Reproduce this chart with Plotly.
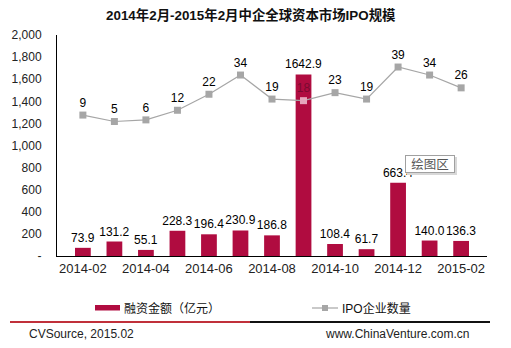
import plotly.graph_objects as go

# Monthly series, Feb 2014 - Feb 2015
months = ["2014-02", "2014-03", "2014-04", "2014-05", "2014-06", "2014-07", "2014-08",
          "2014-09", "2014-10", "2014-11", "2014-12", "2015-01", "2015-02"]
amount = [73.9, 131.2, 55.1, 228.3, 196.4, 230.9, 186.8, 1642.9, 108.4, 61.7, 663.4, 140.0, 136.3]
ipo_count = [9, 5, 6, 12, 22, 34, 19, 18, 23, 19, 39, 34, 26]

shown_months = ["2014-02", "2014-04", "2014-06", "2014-08", "2014-10", "2014-12", "2015-02"]
y_ticks = [0, 200, 400, 600, 800, 1000, 1200, 1400, 1600, 1800, 2000]
y_tick_text = ["-", "200", "400", "600", "800", "1,000", "1,200", "1,400", "1,600", "1,800", "2,000"]

title_text = "2014年2月-2015年2月中企全球资本市场IPO规模"
bar_name = "融资金额（亿元）"
line_name = "IPO企业数量"
source_left = "CVSource, 2015.02"
source_right = "www.ChinaVenture.com.cn"
tip_text = "绘图区"

W, H = 511, 348
ML, MR, MT, MB = 57, 24, 35, 92
PW, PH = W - ML - MR, H - MT - MB

def px(x):
    return (x - ML) / PW

def py(y):
    return (H - MB - y) / PH

FONT = "Arial, 'Liberation Sans', 'Noto Sans CJK SC', sans-serif"
BAR_COLOR = "#B00C40"
LINE_COLOR = "#A6A6A6"

bar_text_colors = ["#000000"] * len(amount)
line_text_colors = ["#000000"] * len(ipo_count)
line_text_colors[7] = "#7A0A30"
marker_colors = [LINE_COLOR] * len(ipo_count)
marker_colors[7] = "#E6A6BC"

fig = go.Figure()
fig.add_trace(go.Bar(
    x=months, y=amount, name=bar_name,
    marker=dict(color=BAR_COLOR, line=dict(width=0)),
    width=0.5,
    texttemplate="%{y:.1f}", textposition="outside", constraintext="none",
    textfont=dict(family=FONT, size=12, color=bar_text_colors),
    cliponaxis=False, showlegend=False,
))
fig.add_trace(go.Scatter(
    x=months, y=ipo_count, name=line_name, yaxis="y2",
    mode="lines+markers+text",
    line=dict(color=LINE_COLOR, width=1.2),
    marker=dict(symbol="square", size=7, color=marker_colors),
    text=[str(v) for v in ipo_count], textposition="top center",
    textfont=dict(family=FONT, size=12, color=line_text_colors),
    cliponaxis=False, showlegend=False,
))

shapes = [
    # legend swatches
    dict(type="rect", xref="paper", yref="paper",
         x0=px(95), x1=px(120), y0=py(310.5), y1=py(305), fillcolor=BAR_COLOR, line=dict(width=0)),
    dict(type="line", xref="paper", yref="paper",
         x0=px(312), x1=px(338), y0=py(308), y1=py(308), line=dict(color=LINE_COLOR, width=1.2)),
    dict(type="rect", xref="paper", yref="paper",
         x0=px(322), x1=px(328), y0=py(311), y1=py(305), fillcolor=LINE_COLOR, line=dict(width=0)),
    # footer rule
    dict(type="line", xref="paper", yref="paper",
         x0=px(10), x1=px(250), y0=py(322), y1=py(322), line=dict(color="#C0303A", width=2)),
    dict(type="line", xref="paper", yref="paper",
         x0=px(250), x1=px(490), y0=py(322), y1=py(322), line=dict(color="#111111", width=2)),
    # soft shadow behind the tooltip box
    dict(type="rect", xref="paper", yref="paper",
         x0=px(407), x1=px(457), y0=py(175), y1=py(157),
         fillcolor="#D8D8D8", line=dict(width=0), layer="above"),
]

annotations = [
    dict(text="<b>" + title_text + "</b>", xref="paper", yref="paper", x=px(251), y=py(15),
         showarrow=False, xanchor="center", yanchor="middle",
         font=dict(family=FONT, size=13.4, color="#111111")),
    dict(text=bar_name, xref="paper", yref="paper", x=px(122), y=py(308),
         showarrow=False, xanchor="left", yanchor="middle",
         font=dict(family=FONT, size=12, color="#111111")),
    dict(text=line_name, xref="paper", yref="paper", x=px(340), y=py(308),
         showarrow=False, xanchor="left", yanchor="middle",
         font=dict(family=FONT, size=12, color="#111111")),
    dict(text=source_left, xref="paper", yref="paper", x=px(27), y=py(334),
         showarrow=False, xanchor="left", yanchor="middle",
         font=dict(family=FONT, size=12, color="#222222")),
    dict(text=source_right, xref="paper", yref="paper", x=px(471), y=py(334),
         showarrow=False, xanchor="right", yanchor="middle",
         font=dict(family=FONT, size=12, color="#222222")),
    dict(text=tip_text, xref="paper", yref="paper", x=px(405), y=py(155),
         showarrow=False, xanchor="left", yanchor="top",
         width=48, height=16, align="center", valign="middle",
         bgcolor="#FFFFFF", bordercolor="#A0A0A0", borderwidth=1, borderpad=0,
         font=dict(family=FONT, size=12.5, color="#555555")),
]

fig.update_layout(
    width=W, height=H,
    margin=dict(l=ML, r=MR, t=MT, b=MB),
    paper_bgcolor="white", plot_bgcolor="white",
    bargap=0.5,
    xaxis=dict(
        type="category", categoryorder="array", categoryarray=months,
        tickvals=shown_months, ticktext=shown_months,
        showline=True, linecolor="#000000", linewidth=1,
        ticks="", showgrid=False, zeroline=False,
        tickfont=dict(family=FONT, size=13, color="#222222"),
    ),
    yaxis=dict(
        range=[0, 2000], tickvals=y_ticks, ticktext=y_tick_text,
        showline=True, linecolor="#000000", linewidth=1,
        ticks="", showgrid=False, zeroline=False,
        ticklabelstandoff=12,
        tickfont=dict(family=FONT, size=12, color="#222222"),
    ),
    yaxis2=dict(
        overlaying="y", side="right", range=[-79, 59],
        visible=False, showgrid=False, zeroline=False,
    ),
    shapes=shapes,
    annotations=annotations,
)

fig.write_html("out.html")
